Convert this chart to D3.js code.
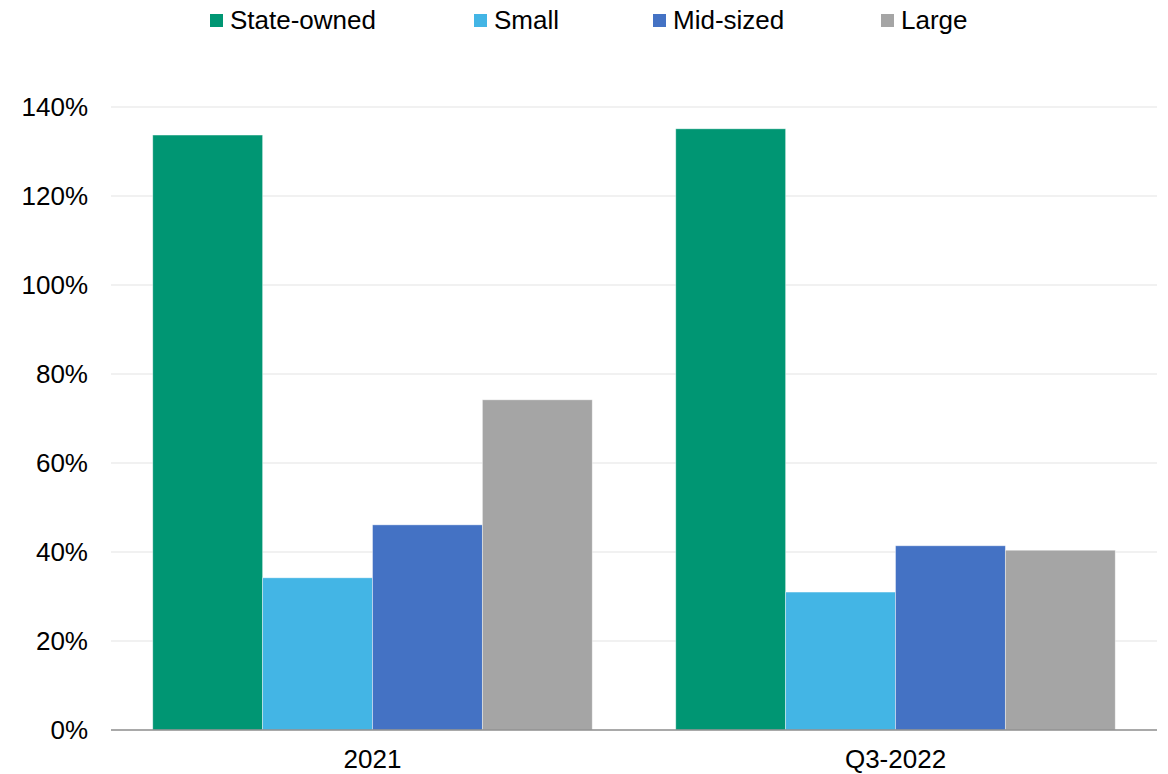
<!DOCTYPE html>
<html>
<head>
<meta charset="utf-8">
<script src="https://cdn.jsdelivr.net/npm/d3@7"></script>
<style>
  body { margin: 0; background: #fff; }
  svg { display: block; font-family: "Liberation Sans", Arial, sans-serif; }
</style>
</head>
<body>
<script>
"use strict";
const categories = ["2021", "Q3-2022"];
const seriesNames = ["State-owned", "Small", "Mid-sized", "Large"];
const stateOwned = [133.7, 135.1];
const small = [34.2, 31.0];
const midSized = [46.1, 41.4];
const large = [74.2, 40.4];
const yTicks = [0, 20, 40, 60, 80, 100, 120, 140];
const colors = ["#009673", "#43b5e5", "#4472c4", "#a5a5a5"];

function app() {
	const w = 1168;
	const h = 774;
	const left = 111, right = 1157, top = 107, bottom = 730;
	const values = [stateOwned, small, midSized, large];

	const x0 = d3.scaleBand().domain(categories).range([left, right]).padding(0);
	const x1 = d3.scaleBand().domain(seriesNames).range([0, x0.bandwidth()]).paddingInner(0).paddingOuter(0.38);
	const y = d3.scaleLinear().domain([0, 140]).range([bottom, top]);

	const svg = d3.select("body").append("svg").attr("width", w).attr("height", h);

	// gridlines
	svg.append("g").selectAll("line").data(yTicks.filter(d => d > 0)).enter().append("line")
		.attr("x1", left).attr("x2", right)
		.attr("y1", d => y(d)).attr("y2", d => y(d))
		.attr("stroke", "#e3e3e3").attr("stroke-width", 1.2);

	// y tick labels
	svg.append("g").selectAll("text").data(yTicks).enter().append("text")
		.attr("x", 88).attr("y", d => y(d)).attr("dy", "0.36em")
		.attr("text-anchor", "end").attr("font-size", 26).attr("fill", "#000")
		.text(d => d + "%");

	// bars
	const groups = svg.append("g").selectAll("g").data(categories).enter().append("g")
		.attr("transform", d => "translate(" + x0(d) + ",0)");
	groups.selectAll("rect").data((c, ci) => seriesNames.map((s, si) => ({ s: s, si: si, v: values[si][ci] })))
		.enter().append("rect")
		.attr("x", d => x1(d.s)).attr("width", x1.bandwidth())
		.attr("y", d => y(d.v)).attr("height", d => y(0) - y(d.v))
		.attr("fill", d => colors[d.si])
		.attr("stroke", "rgba(255,255,255,0.5)").attr("stroke-width", 0.8);

	// x axis line
	svg.append("line").attr("x1", left).attr("x2", right).attr("y1", bottom).attr("y2", bottom)
		.attr("stroke", "#8c8c8c").attr("stroke-width", 1.3);

	// x labels
	svg.append("g").selectAll("text").data(categories).enter().append("text")
		.attr("x", d => x0(d) + x0.bandwidth() / 2).attr("y", 768)
		.attr("text-anchor", "middle").attr("font-size", 26).attr("fill", "#000")
		.text(d => d);

	// legend
	const legendX = [210, 474, 653, 881];
	const legend = svg.append("g").selectAll("g").data(seriesNames).enter().append("g")
		.attr("transform", (d, i) => "translate(" + legendX[i] + ",0)");
	legend.append("rect").attr("x", 0).attr("y", 14).attr("width", 13).attr("height", 13)
		.attr("fill", (d, i) => colors[i]);
	legend.append("text").attr("x", 20).attr("y", 29)
		.attr("font-size", 26).attr("fill", "#000").text(d => d);
}

app();
</script>
</body>
</html>
